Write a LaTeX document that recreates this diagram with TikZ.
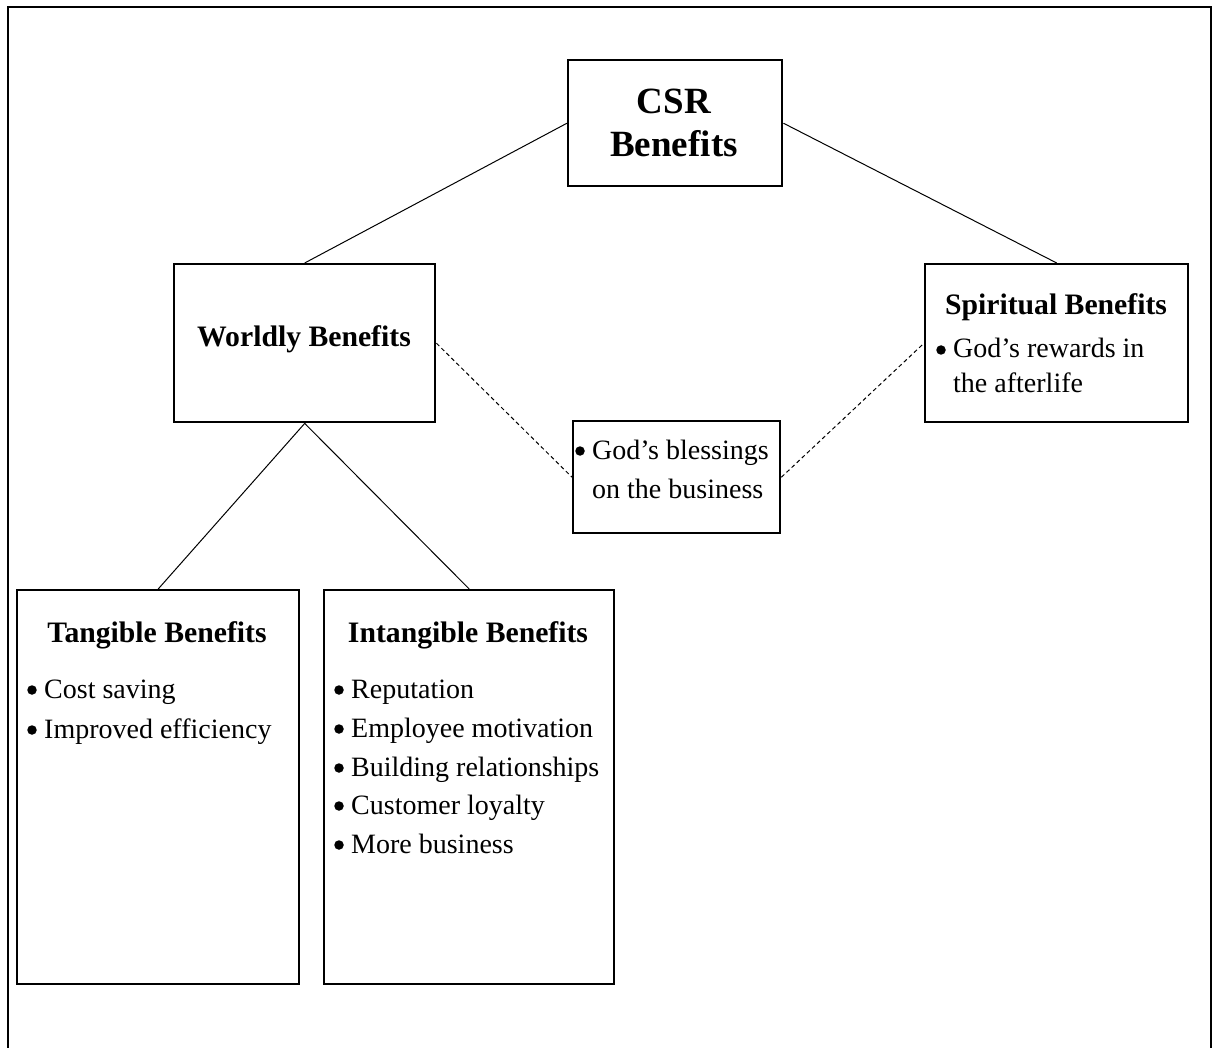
\documentclass[tikz,border=0pt]{standalone}
\usepackage{fontspec}
\setmainfont{Liberation Serif}
\begin{document}
\begin{tikzpicture}[x=1pt,y=-1pt,
  box/.style={draw, line width=2.4pt, inner sep=0pt, anchor=north west},
  conn/.style={line width=1pt},
  dconn/.style={line width=1pt, dash pattern=on 4pt off 3pt},
  tx/.style={inner sep=0pt, anchor=base west, font=\fontsize{28}{33}\selectfont},
  bul/.style={circle, fill, inner sep=0pt, minimum size=9.5pt},
  ttl/.style={inner sep=0pt, anchor=base, font=\fontsize{29.7}{35}\selectfont\bfseries},
  big/.style={inner sep=0pt, anchor=base, font=\fontsize{37}{44}\selectfont\bfseries}]
\useasboundingbox (0,0) rectangle (1218,1048);
\draw[line width=2pt] (8,1052) -- (8,7) -- (1211,7) -- (1211,1052);
% boxes
\node[box, minimum width=214pt, minimum height=126pt] (csr) at (567,59) {};
\node[box, minimum width=261pt, minimum height=158pt] (world) at (173,263) {};
\node[box, minimum width=263pt, minimum height=158pt] (spirit) at (924,263) {};
\node[box, minimum width=207pt, minimum height=112pt] (bless) at (572,420) {};
\node[box, minimum width=282pt, minimum height=394pt] (tang) at (16,589) {};
\node[box, minimum width=290pt, minimum height=394pt] (intang) at (323,589) {};
% connectors
\draw[conn] (csr.west) -- (world.north);
\draw[conn] (csr.east) -- (spirit.north);
\draw[conn] (world.south) -- (tang.north);
\draw[conn] (world.south) -- (intang.north);
\draw[dconn] (world.east) -- (bless.west);
\draw[dconn] (bless.east) -- (spirit.west);
% texts
\node[big] (csr1) at (674,114) {CSR};
\node[big] (csr2) at (674,157) {Benefits};
\node[ttl] (wt) at (304,347) {Worldly Benefits};
\node[ttl] (st) at (1056,315) {Spiritual Benefits};
\node[bul] (sb1) at (941,350) {};
\node[tx] (s1) at (953,358) {God’s rewards in};
\node[tx] (s2) at (953,392) {the afterlife};
\node[bul] (bb1) at (580,451) {};
\node[tx] (b1) at (592,459) {God’s blessings};
\node[tx] (b2) at (592,498) {on the business};
\node[ttl] (tt) at (157,642) {Tangible Benefits};
\node[bul] (tb1) at (32,690) {};
\node[tx] (t1) at (44,698) {Cost saving};
\node[bul] (tb2) at (32,730) {};
\node[tx] (t2) at (44,738) {Improved efficiency};
\node[ttl] (it) at (468,642) {Intangible Benefits};
\node[bul] (ib1) at (339,690) {};
\node[tx] (i1) at (351,698) {Reputation};
\node[bul] (ib2) at (339,729) {};
\node[tx] (i2) at (351,737) {Employee motivation};
\node[bul] (ib3) at (339,768) {};
\node[tx] (i3) at (351,776) {Building relationships};
\node[bul] (ib4) at (339,806) {};
\node[tx] (i4) at (351,814) {Customer loyalty};
\node[bul] (ib5) at (339,845) {};
\node[tx] (i5) at (351,853) {More business};
\end{tikzpicture}
\end{document}
